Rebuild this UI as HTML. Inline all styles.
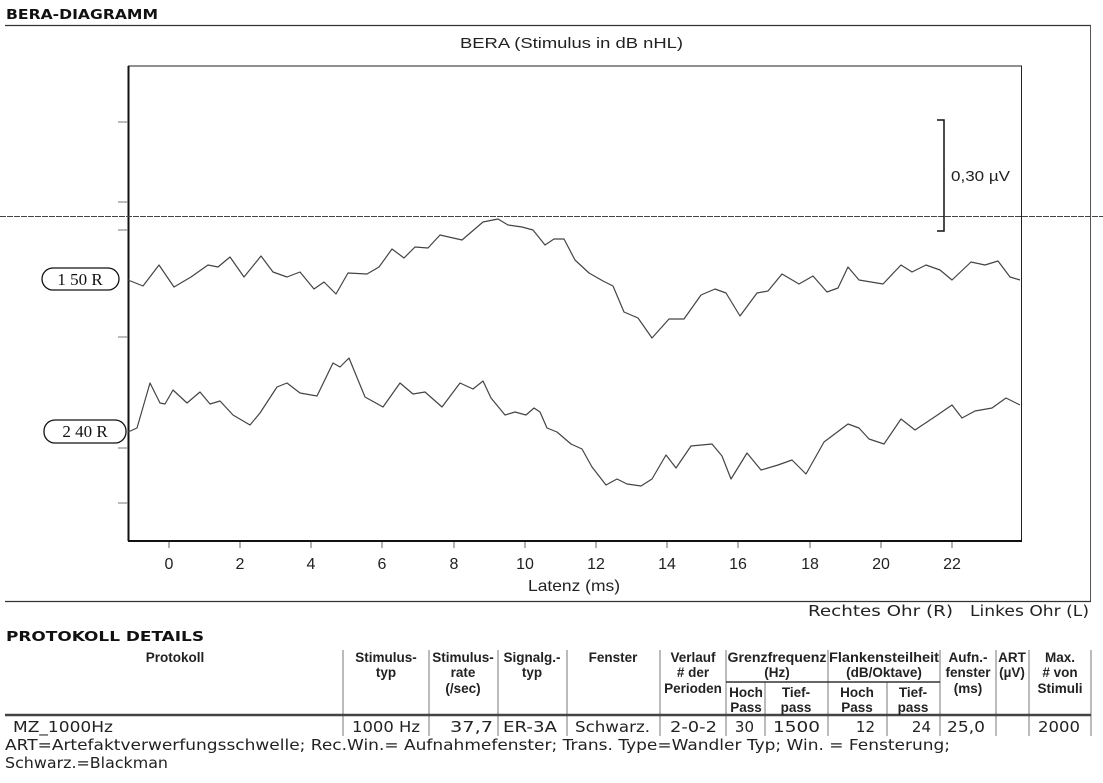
<!DOCTYPE html>
<html><head><meta charset="utf-8"><style>
html,body{margin:0;padding:0;background:#fff;}
body{width:1103px;height:783px;overflow:hidden;position:relative;}
svg{position:absolute;left:0;top:0;}
</style></head><body>
<svg width="1103" height="783" viewBox="0 0 1103 783" xmlns="http://www.w3.org/2000/svg">
<text x="6" y="19" font-family="DejaVu Sans, sans-serif" font-weight="bold" font-size="13" fill="#111" textLength="152" lengthAdjust="spacingAndGlyphs">BERA-DIAGRAMM</text>
<line x1="5" y1="25.5" x2="1091" y2="25.5" stroke="#333" stroke-width="1.2"/>
<line x1="1090.5" y1="25" x2="1090.5" y2="601" stroke="#555" stroke-width="1"/>
<line x1="5" y1="601.5" x2="1091" y2="601.5" stroke="#333" stroke-width="1.2"/>
<text x="460" y="48" font-family="Liberation Sans, sans-serif" font-size="15" fill="#222" textLength="223" lengthAdjust="spacingAndGlyphs">BERA (Stimulus in dB nHL)</text>
<rect x="128.5" y="66" width="893" height="475" fill="none" stroke="#222" stroke-width="1"/>
<line x1="128.5" y1="66" x2="128.5" y2="541" stroke="#111" stroke-width="2"/>
<line x1="128" y1="541" x2="1022" y2="541" stroke="#111" stroke-width="2"/>
<line x1="0" y1="216.5" x2="1103" y2="216.5" stroke="#444" stroke-width="1" stroke-dasharray="6,1"/>
<g stroke="#777" stroke-width="1">
<line x1="118" y1="122" x2="128" y2="122"/><line x1="118" y1="202" x2="128" y2="202"/><line x1="118" y1="230" x2="128" y2="230"/>
<line x1="118" y1="337" x2="128" y2="337"/><line x1="118" y1="448" x2="128" y2="448"/><line x1="118" y1="503" x2="128" y2="503"/>
</g>
<g stroke="#666" stroke-width="1">
<line x1="169" y1="542" x2="169" y2="548"/><line x1="240" y1="542" x2="240" y2="548"/><line x1="311" y1="542" x2="311" y2="548"/><line x1="382" y1="542" x2="382" y2="548"/><line x1="454" y1="542" x2="454" y2="548"/><line x1="525" y1="542" x2="525" y2="548"/><line x1="596" y1="542" x2="596" y2="548"/><line x1="667" y1="542" x2="667" y2="548"/><line x1="738" y1="542" x2="738" y2="548"/><line x1="810" y1="542" x2="810" y2="548"/><line x1="881" y1="542" x2="881" y2="548"/><line x1="952" y1="542" x2="952" y2="548"/>
</g>
<g font-family="Liberation Sans, sans-serif" font-size="16" fill="#222" text-anchor="middle">
<text x="169" y="569">0</text><text x="240" y="569">2</text><text x="311" y="569">4</text><text x="382" y="569">6</text><text x="454" y="569">8</text><text x="525" y="569">10</text><text x="596" y="569">12</text><text x="667" y="569">14</text><text x="738" y="569">16</text><text x="810" y="569">18</text><text x="881" y="569">20</text><text x="952" y="569">22</text>
</g>
<text x="528" y="591" font-family="Liberation Sans, sans-serif" font-size="16" fill="#222" textLength="92" lengthAdjust="spacingAndGlyphs">Latenz (ms)</text>
<polyline points="937,120 944,120 944,231 937,231" fill="none" stroke="#111" stroke-width="1.5"/>
<text x="951" y="181" font-family="Liberation Sans, sans-serif" font-size="15" fill="#222" textLength="59" lengthAdjust="spacingAndGlyphs">0,30 µV</text>
<rect x="42" y="268" width="77" height="22" rx="11" fill="#fff" stroke="#111" stroke-width="1.3"/>
<text x="80" y="285" text-anchor="middle" font-family="Liberation Serif, serif" font-size="17" fill="#111">1  50 R</text>
<rect x="44" y="420" width="82" height="23" rx="11" fill="#fff" stroke="#111" stroke-width="1.3"/>
<text x="85" y="437" text-anchor="middle" font-family="Liberation Serif, serif" font-size="17" fill="#111">2  40 R</text>
<polyline fill="none" stroke="#444" stroke-width="1.2" stroke-linejoin="round" points="128,280 143,286 159,265 174,287 191,277 208,265 218,267 230,257 244,277 261,256 273,272 287,277 300,272 314,289 324,282 336,294 348,273 367,274 379,267 392,249 404,258 415,247 428,248 440,235 462,240 483,222 498,219 508,225 522,227 533,230 545,245 554,239 564,239 575,260 589,273 603,281 613,286 624,312 638,318 652,338 669,319 684,319 701,295 715,289 726,293 740,316 757,293 768,291 782,274 799,284 813,276 827,292 838,288 848,267 859,280 883,284 901,265 912,272 926,265 940,270 952,280 971,262 985,265 998,261 1010,277 1020,280"/>
<polyline fill="none" stroke="#444" stroke-width="1.2" stroke-linejoin="round" points="128,432 137,428 150,383 160,403 165,404 173,390 187,403 200,392 210,404 220,401 233,415 250,425 260,413 277,387 287,383 300,393 317,396 333,363 340,367 349,358 365,397 383,407 400,383 413,394 425,392 442,407 460,383 473,389 483,381 491,398 505,415 515,412 526,415 534,408 540,412 547,428 557,432 571,444 582,449 592,467 606,485 617,479 627,484 641,486 652,479 666,455 676,468 691,446 712,444 722,456 731,479 747,453 761,470 778,465 792,460 806,474 824,442 848,424 859,428 869,439 884,444 901,419 915,430 936,416 952,405 962,418 975,411 992,408 1006,398 1020,405"/>
<g font-family="DejaVu Sans, sans-serif" font-size="15" fill="#222">
<text x="808" y="616" textLength="145" lengthAdjust="spacingAndGlyphs">Rechtes Ohr (R)</text>
<text x="970" y="616" textLength="119" lengthAdjust="spacingAndGlyphs">Linkes Ohr (L)</text>
</g>
<text x="6" y="641" font-family="DejaVu Sans, sans-serif" font-weight="bold" font-size="13" fill="#111" textLength="198" lengthAdjust="spacingAndGlyphs">PROTOKOLL DETAILS</text>
<g stroke="#777" stroke-width="1">
<line x1="343" y1="650" x2="343" y2="736"/><line x1="429" y1="650" x2="429" y2="736"/><line x1="498" y1="650" x2="498" y2="736"/><line x1="567" y1="650" x2="567" y2="736"/><line x1="660" y1="650" x2="660" y2="736"/><line x1="726" y1="650" x2="726" y2="736"/><line x1="765" y1="682" x2="765" y2="736"/><line x1="828" y1="650" x2="828" y2="736"/><line x1="887" y1="682" x2="887" y2="736"/><line x1="940" y1="650" x2="940" y2="736"/><line x1="996" y1="650" x2="996" y2="736"/><line x1="1029" y1="650" x2="1029" y2="736"/><line x1="1091" y1="650" x2="1091" y2="736"/>
<line x1="726" y1="682" x2="940" y2="682" stroke="#333" stroke-width="1.5"/>
</g>
<line x1="5" y1="715" x2="1091" y2="715" stroke="#444" stroke-width="2.5"/>
<g font-family="Liberation Sans, sans-serif" font-weight="bold" font-size="13.5" fill="#222" text-anchor="middle">
<text x="175" y="662">Protokoll</text>
<text x="386" y="662">Stimulus-</text><text x="386" y="677">typ</text>
<text x="463" y="662">Stimulus-</text><text x="463" y="677">rate</text><text x="463" y="693">(/sec)</text>
<text x="532" y="662">Signalg.-</text><text x="532" y="677">typ</text>
<text x="613" y="662">Fenster</text>
<text x="693" y="662">Verlauf</text><text x="693" y="677"># der</text><text x="693" y="693">Perioden</text>
<text x="777" y="662" textLength="99" lengthAdjust="spacingAndGlyphs">Grenzfrequenz</text><text x="777" y="677">(Hz)</text>
<text x="746" y="697">Hoch</text><text x="746" y="712">Pass</text>
<text x="796" y="697">Tief-</text><text x="796" y="712">pass</text>
<text x="884" y="662" textLength="110" lengthAdjust="spacingAndGlyphs">Flankensteilheit</text><text x="884" y="677">(dB/Oktave)</text>
<text x="857" y="697">Hoch</text><text x="857" y="712">Pass</text>
<text x="913" y="697">Tief-</text><text x="913" y="712">pass</text>
<text x="968" y="662">Aufn.-</text><text x="968" y="677">fenster</text><text x="968" y="693">(ms)</text>
<text x="1012" y="662">ART</text><text x="1012" y="677">(µV)</text>
<text x="1060" y="662">Max.</text><text x="1060" y="677"># von</text><text x="1060" y="693">Stimuli</text>
</g>
<g font-family="DejaVu Sans, sans-serif" font-size="15" fill="#222">
<text x="13" y="732" textLength="100" lengthAdjust="spacingAndGlyphs">MZ_1000Hz</text>
<text x="352" y="732" textLength="68" lengthAdjust="spacingAndGlyphs">1000 Hz</text>
<text x="450" y="732" textLength="43" lengthAdjust="spacingAndGlyphs">37,7</text>
<text x="503" y="732" textLength="54" lengthAdjust="spacingAndGlyphs">ER-3A</text>
<text x="575" y="732" textLength="75" lengthAdjust="spacingAndGlyphs">Schwarz.</text>
<text x="670" y="732" textLength="47" lengthAdjust="spacingAndGlyphs">2-0-2</text>
<text x="754" y="732" text-anchor="end">30</text>
<text x="773" y="732" textLength="47" lengthAdjust="spacingAndGlyphs">1500</text>
<text x="875" y="732" text-anchor="end">12</text>
<text x="931" y="732" text-anchor="end">24</text>
<text x="947" y="732" textLength="38" lengthAdjust="spacingAndGlyphs">25,0</text>
<text x="1038" y="732" textLength="42" lengthAdjust="spacingAndGlyphs">2000</text>
<text x="5" y="750" textLength="945" lengthAdjust="spacingAndGlyphs">ART=Artefaktverwerfungsschwelle; Rec.Win.= Aufnahmefenster; Trans. Type=Wandler Typ; Win. = Fensterung;</text>
<text x="5" y="768" textLength="163" lengthAdjust="spacingAndGlyphs">Schwarz.=Blackman</text>
</g>
</svg>
</body></html>
